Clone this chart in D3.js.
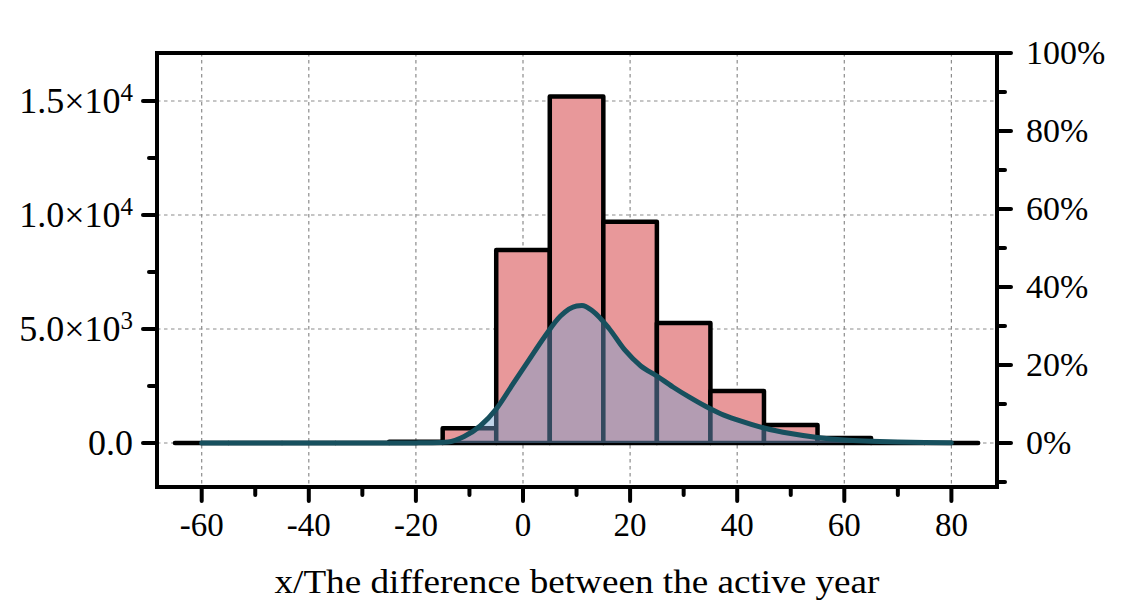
<!DOCTYPE html>
<html>
<head>
<meta charset="utf-8">
<script src="https://cdn.jsdelivr.net/npm/d3@7"></script>
<style>
  html, body { margin: 0; padding: 0; background: #fff; }
  svg text { font-family: "Liberation Serif", "Times New Roman", serif; fill: #000; }
</style>
</head>
<body>
<svg id="chart" width="1130" height="604"></svg>
<script>
// ---------------- DATA ----------------
const binStarts = [-65, -55, -45, -35, -25, -15, -5, 5, 15, 25, 35, 45, 55, 65, 75];
const binWidth = 10;
const binCounts = [0, 0, 0, 0, 60, 650, 8470, 15200, 9700, 5260, 2280, 790, 220, 0, 0];

const curveX = [-60, -50, -40, -30, -20, -17, -14, -11, -8, -5, -2, 1, 4, 7, 10, 11, 13, 16, 19, 22, 25, 28, 31, 34, 37, 40, 45, 50, 55, 60, 65, 70, 75, 80];
const curveY = [0, 0, 0, 0, 5, 10, 40, 285, 745, 1490, 2545, 3600, 4650, 5570, 6010, 6030, 5790, 5045, 4080, 3380, 2940, 2455, 2020, 1620, 1270, 1010, 660, 415, 240, 130, 80, 45, 20, 10];

const xTicksMajor = [-60, -40, -20, 0, 20, 40, 60, 80];
const xTicksMinor = [-50, -30, -10, 10, 30, 50, 70];
const yTicksMajor = [0, 5000, 10000, 15000];
const yTickLabels = [{m: "0.0", e: ""}, {m: "5.0×10", e: "3"}, {m: "1.0×10", e: "4"}, {m: "1.5×10", e: "4"}];
const yTicksMinor = [2500, 7500, 12500];
const rTicksMajor = [0, 20, 40, 60, 80, 100];
const rTickLabels = ["0%", "20%", "40%", "60%", "80%", "100%"];
const rTicksMinor = [-10, 10, 30, 50, 70, 90];
const xTitle = "x/The difference between the active year";

// ---------------- LAYOUT ----------------
const L = 157, R = 997, T = 53, B = 487;
const svg = d3.select("#chart");

const x = d3.scaleLinear().domain([0, 20]).range([523, 630.1]);
const y = d3.scaleLinear().domain([0, 15000]).range([443, 101]);
const yR = d3.scaleLinear().domain([0, 100]).range([443, 53]);

const fontSize = 33;

// ---------------- GRID ----------------
const grid = svg.append("g").attr("stroke", "#8c8c8c").attr("stroke-width", 1.2).attr("stroke-dasharray", "3.5,3.5");
grid.selectAll("line.v").data(xTicksMajor).join("line")
  .attr("x1", d => x(d)).attr("x2", d => x(d)).attr("y1", T).attr("y2", B);
grid.selectAll("line.h").data(yTicksMajor).join("line")
  .attr("x1", L).attr("x2", R).attr("y1", d => y(d)).attr("y2", d => y(d));

// ---------------- BARS ----------------
const bars = binStarts.map((s, i) => ({x0: s, x1: s + binWidth, v: binCounts[i]}));
svg.append("g").selectAll("path").data(bars).join("path")
  .attr("d", d => `M${x(d.x0)},${y(0)}V${y(d.v)}H${x(d.x1)}V${y(0)}Z`)
  .attr("fill", "#e8989a")
  .attr("stroke", "#000")
  .attr("stroke-width", 4.5)
  .attr("stroke-linejoin", "round");

// ---------------- CURVE ----------------
const pts = curveX.map((v, i) => [v, curveY[i]]);
const area = d3.area().x(d => x(d[0])).y0(y(0)).y1(d => y(d[1])).curve(d3.curveMonotoneX);
const line = d3.line().x(d => x(d[0])).y(d => y(d[1])).curve(d3.curveMonotoneX);
svg.append("path").datum(pts).attr("d", area)
  .attr("fill", "rgb(115,162,209)").attr("fill-opacity", 0.45);
svg.append("path").datum(pts).attr("d", line)
  .attr("fill", "none").attr("stroke", "#17505e").attr("stroke-width", 5)
  .attr("stroke-linecap", "round").attr("stroke-linejoin", "round");

// ---------------- FRAME & TICKS ----------------
svg.append("rect").attr("x", L).attr("y", T).attr("width", R - L).attr("height", B - T)
  .attr("fill", "none").attr("stroke", "#000").attr("stroke-width", 4);

const ticks = svg.append("g").attr("stroke", "#000").attr("stroke-width", 4).attr("stroke-linecap", "round");
// bottom
ticks.selectAll("line.xM").data(xTicksMajor).join("line").attr("class", "xM")
  .attr("x1", d => x(d)).attr("x2", d => x(d)).attr("y1", B).attr("y2", B + 14);
ticks.selectAll("line.xm").data(xTicksMinor).join("line").attr("class", "xm")
  .attr("x1", d => x(d)).attr("x2", d => x(d)).attr("y1", B).attr("y2", B + 8);
// left
ticks.selectAll("line.yM").data(yTicksMajor).join("line").attr("class", "yM")
  .attr("x1", L).attr("x2", L - 14).attr("y1", d => y(d)).attr("y2", d => y(d));
ticks.selectAll("line.ym").data(yTicksMinor).join("line").attr("class", "ym")
  .attr("x1", L).attr("x2", L - 8).attr("y1", d => y(d)).attr("y2", d => y(d));
// right
ticks.selectAll("line.rM").data(rTicksMajor).join("line").attr("class", "rM")
  .attr("x1", R).attr("x2", R + 14).attr("y1", d => yR(d)).attr("y2", d => yR(d));
ticks.selectAll("line.rm").data(rTicksMinor).join("line").attr("class", "rm")
  .attr("x1", R).attr("x2", R + 8).attr("y1", d => yR(d)).attr("y2", d => yR(d));

// ---------------- LABELS ----------------
svg.append("g").selectAll("text").data(xTicksMajor).join("text")
  .attr("x", d => x(d)).attr("y", 536).attr("text-anchor", "middle")
  .attr("font-size", fontSize).text(d => String(d));

const yl = svg.append("g").selectAll("text").data(yTicksMajor).join("text")
  .attr("x", 133).attr("y", d => y(d) + 12).attr("text-anchor", "end")
  .attr("font-size", 36);
yl.append("tspan").text((d, i) => yTickLabels[i].m);
yl.append("tspan").attr("font-size", 25).attr("dy", -12).text((d, i) => yTickLabels[i].e);

svg.append("g").selectAll("text").data(rTicksMajor).join("text")
  .attr("x", 1026).attr("y", d => yR(d) + 11).attr("text-anchor", "start")
  .attr("font-size", 34).text((d, i) => rTickLabels[i]);

svg.append("text").attr("x", (L + R) / 2).attr("y", 593).attr("text-anchor", "middle")
  .attr("font-size", 34).attr("textLength", 605).attr("lengthAdjust", "spacingAndGlyphs")
  .text(xTitle);
</script>
</body>
</html>
